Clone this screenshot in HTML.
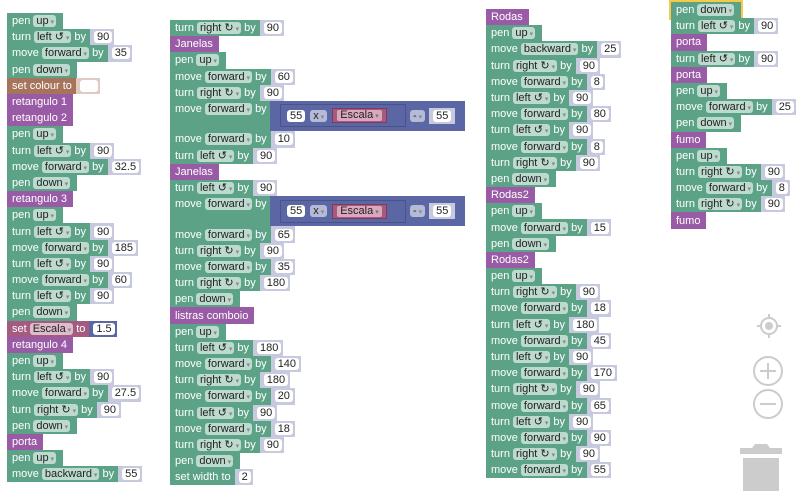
<!DOCTYPE html>
<html><head><meta charset="utf-8"><style>
body{margin:0;width:806px;height:491px;background:#fff;overflow:hidden;position:relative;font:11px "Liberation Sans",sans-serif}
.c{position:absolute;display:flex;flex-direction:column;align-items:flex-start}
.r{height:16.2px;display:flex;align-items:center;flex:none}
.b{background:#5ba287;height:16.2px;display:inline-flex;align-items:center;padding:0 4px 0 5px;color:#fff;white-space:nowrap;box-sizing:border-box}
.p{background:#995ba5;padding-right:6px}
.br{background:#a5745b}
.v{background:#a55b80}
.d{background:rgba(255,255,255,.6);color:#222;border-radius:3px;padding:0 2px 0 3px;height:12px;line-height:12px;margin:0 3px;text-decoration:none;display:inline-block}
.d::after{content:" ▾";font-size:7px;color:#888}
.n{background:#c7cadf;height:16.2px;display:inline-flex;align-items:center;padding:0 2px 0 4px;box-sizing:border-box}
.n i{background:#fff;color:#222;border-radius:3px;padding:0 3px;height:12px;line-height:12px;font-style:normal;display:inline-block}
.t{height:30.4px;align-items:flex-start}
.t .b{height:30.4px;align-items:flex-start;padding-top:2px}
.m{background:#5b67a5;height:30px;display:flex;align-items:center;padding:0 5px 0 10px;box-sizing:border-box;width:195px}
.mi{border:1px solid #49538a;height:23px;display:flex;align-items:center;padding:0 6px;width:126px;box-sizing:border-box}
.m .n{background:transparent;padding:0}
.x{background:rgba(255,255,255,.55);color:#222;border-radius:3px;height:12px;line-height:12px;padding:0 3px;margin:0 5px}
.x::after{content:" ▾";font-size:7px;color:#888}
.e{background:#a55b80;border:1px solid #7d3c5e;height:15px;display:inline-flex;align-items:center;padding:0 4px;box-sizing:border-box}
.e span{background:#d9a8bf;color:#222;border-radius:2px;height:11px;line-height:11px;padding:0 3px}
.e span::after{content:" ▾";font-size:7px;color:#777}
.sel{outline:2px solid #f7c948}
</style></head><body>

<div class="c" style="left:7px;top:13px">
<div class="r"><span class="b">pen<s class="d">up</s></span></div>
<div class="r"><span class="b">turn<s class="d">left ↺</s>by</span><span class="n"><i>90</i></span></div>
<div class="r"><span class="b">move<s class="d">forward</s>by</span><span class="n"><i>35</i></span></div>
<div class="r"><span class="b">pen<s class="d">down</s></span></div>
<div class="r"><span class="b br">set colour to</span><span class="n" style="background:#e0cbc0"><i style="width:12px"></i></span></div>
<div class="r"><span class="b p">retangulo 1</span></div>
<div class="r"><span class="b p">retangulo 2</span></div>
<div class="r"><span class="b">pen<s class="d">up</s></span></div>
<div class="r"><span class="b">turn<s class="d">left ↺</s>by</span><span class="n"><i>90</i></span></div>
<div class="r"><span class="b">move<s class="d">forward</s>by</span><span class="n"><i>32.5</i></span></div>
<div class="r"><span class="b">pen<s class="d">down</s></span></div>
<div class="r"><span class="b p">retangulo 3</span></div>
<div class="r"><span class="b">pen<s class="d">up</s></span></div>
<div class="r"><span class="b">turn<s class="d">left ↺</s>by</span><span class="n"><i>90</i></span></div>
<div class="r"><span class="b">move<s class="d">forward</s>by</span><span class="n"><i>185</i></span></div>
<div class="r"><span class="b">turn<s class="d">left ↺</s>by</span><span class="n"><i>90</i></span></div>
<div class="r"><span class="b">move<s class="d">forward</s>by</span><span class="n"><i>60</i></span></div>
<div class="r"><span class="b">turn<s class="d">left ↺</s>by</span><span class="n"><i>90</i></span></div>
<div class="r"><span class="b">pen<s class="d">down</s></span></div>
<div class="r"><span class="b v">set<s class="d">Escala</s>to</span><span class="n" style="background:#5b67a5"><i>1.5</i></span></div>
<div class="r"><span class="b p">retangulo 4</span></div>
<div class="r"><span class="b">pen<s class="d">up</s></span></div>
<div class="r"><span class="b">turn<s class="d">left ↺</s>by</span><span class="n"><i>90</i></span></div>
<div class="r"><span class="b">move<s class="d">forward</s>by</span><span class="n"><i>27.5</i></span></div>
<div class="r"><span class="b">turn<s class="d">right ↻</s>by</span><span class="n"><i>90</i></span></div>
<div class="r"><span class="b">pen<s class="d">down</s></span></div>
<div class="r"><span class="b p">porta</span></div>
<div class="r"><span class="b">pen<s class="d">up</s></span></div>
<div class="r"><span class="b">move<s class="d">backward</s>by</span><span class="n"><i>55</i></span></div>
</div>

<div class="c" style="left:170px;top:20px">
<div class="r"><span class="b">turn<s class="d">right ↻</s>by</span><span class="n"><i>90</i></span></div>
<div class="r"><span class="b p">Janelas</span></div>
<div class="r"><span class="b">pen<s class="d">up</s></span></div>
<div class="r"><span class="b">move<s class="d">forward</s>by</span><span class="n"><i>60</i></span></div>
<div class="r"><span class="b">turn<s class="d">right ↻</s>by</span><span class="n"><i>90</i></span></div>
<div class="r t"><span class="b" style="width:100px">move<s class="d">forward</s>by</span><span class="m"><span class="mi"><span class="n"><i>55</i></span><span class="x">x</span><span class="e"><span>Escala</span></span></span><span class="x" style="margin:0 4px 0 4px">-</span><span class="n" style="background:#c7cadf;padding:0 4px"><i>55</i></span></span></div>
<div class="r"><span class="b">move<s class="d">forward</s>by</span><span class="n"><i>10</i></span></div>
<div class="r"><span class="b">turn<s class="d">left ↺</s>by</span><span class="n"><i>90</i></span></div>
<div class="r"><span class="b p">Janelas</span></div>
<div class="r"><span class="b">turn<s class="d">left ↺</s>by</span><span class="n"><i>90</i></span></div>
<div class="r t"><span class="b" style="width:100px">move<s class="d">forward</s>by</span><span class="m"><span class="mi"><span class="n"><i>55</i></span><span class="x">x</span><span class="e"><span>Escala</span></span></span><span class="x" style="margin:0 4px 0 4px">-</span><span class="n" style="background:#c7cadf;padding:0 4px"><i>55</i></span></span></div>
<div class="r"><span class="b">move<s class="d">forward</s>by</span><span class="n"><i>65</i></span></div>
<div class="r"><span class="b">turn<s class="d">right ↻</s>by</span><span class="n"><i>90</i></span></div>
<div class="r"><span class="b">move<s class="d">forward</s>by</span><span class="n"><i>35</i></span></div>
<div class="r"><span class="b">turn<s class="d">right ↻</s>by</span><span class="n"><i>180</i></span></div>
<div class="r"><span class="b">pen<s class="d">down</s></span></div>
<div class="r"><span class="b p">listras comboio</span></div>
<div class="r"><span class="b">pen<s class="d">up</s></span></div>
<div class="r"><span class="b">turn<s class="d">left ↺</s>by</span><span class="n"><i>180</i></span></div>
<div class="r"><span class="b">move<s class="d">forward</s>by</span><span class="n"><i>140</i></span></div>
<div class="r"><span class="b">turn<s class="d">right ↻</s>by</span><span class="n"><i>180</i></span></div>
<div class="r"><span class="b">move<s class="d">forward</s>by</span><span class="n"><i>20</i></span></div>
<div class="r"><span class="b">turn<s class="d">left ↺</s>by</span><span class="n"><i>90</i></span></div>
<div class="r"><span class="b">move<s class="d">forward</s>by</span><span class="n"><i>18</i></span></div>
<div class="r"><span class="b">turn<s class="d">right ↻</s>by</span><span class="n"><i>90</i></span></div>
<div class="r"><span class="b">pen<s class="d">down</s></span></div>
<div class="r"><span class="b">set width to</span><span class="n"><i>2</i></span></div>
</div>

<div class="c" style="left:486px;top:9px">
<div class="r"><span class="b p">Rodas</span></div>
<div class="r"><span class="b">pen<s class="d">up</s></span></div>
<div class="r"><span class="b">move<s class="d">backward</s>by</span><span class="n"><i>25</i></span></div>
<div class="r"><span class="b">turn<s class="d">right ↻</s>by</span><span class="n"><i>90</i></span></div>
<div class="r"><span class="b">move<s class="d">forward</s>by</span><span class="n"><i>8</i></span></div>
<div class="r"><span class="b">turn<s class="d">left ↺</s>by</span><span class="n"><i>90</i></span></div>
<div class="r"><span class="b">move<s class="d">forward</s>by</span><span class="n"><i>80</i></span></div>
<div class="r"><span class="b">turn<s class="d">left ↺</s>by</span><span class="n"><i>90</i></span></div>
<div class="r"><span class="b">move<s class="d">forward</s>by</span><span class="n"><i>8</i></span></div>
<div class="r"><span class="b">turn<s class="d">right ↻</s>by</span><span class="n"><i>90</i></span></div>
<div class="r"><span class="b">pen<s class="d">down</s></span></div>
<div class="r"><span class="b p">Rodas2</span></div>
<div class="r"><span class="b">pen<s class="d">up</s></span></div>
<div class="r"><span class="b">move<s class="d">forward</s>by</span><span class="n"><i>15</i></span></div>
<div class="r"><span class="b">pen<s class="d">down</s></span></div>
<div class="r"><span class="b p">Rodas2</span></div>
<div class="r"><span class="b">pen<s class="d">up</s></span></div>
<div class="r"><span class="b">turn<s class="d">right ↻</s>by</span><span class="n"><i>90</i></span></div>
<div class="r"><span class="b">move<s class="d">forward</s>by</span><span class="n"><i>18</i></span></div>
<div class="r"><span class="b">turn<s class="d">left ↺</s>by</span><span class="n"><i>180</i></span></div>
<div class="r"><span class="b">move<s class="d">forward</s>by</span><span class="n"><i>45</i></span></div>
<div class="r"><span class="b">turn<s class="d">left ↺</s>by</span><span class="n"><i>90</i></span></div>
<div class="r"><span class="b">move<s class="d">forward</s>by</span><span class="n"><i>170</i></span></div>
<div class="r"><span class="b">turn<s class="d">right ↻</s>by</span><span class="n"><i>90</i></span></div>
<div class="r"><span class="b">move<s class="d">forward</s>by</span><span class="n"><i>65</i></span></div>
<div class="r"><span class="b">turn<s class="d">left ↺</s>by</span><span class="n"><i>90</i></span></div>
<div class="r"><span class="b">move<s class="d">forward</s>by</span><span class="n"><i>90</i></span></div>
<div class="r"><span class="b">turn<s class="d">right ↻</s>by</span><span class="n"><i>90</i></span></div>
<div class="r"><span class="b">move<s class="d">forward</s>by</span><span class="n"><i>55</i></span></div>
</div>

<div class="c" style="left:671px;top:2px">
<div class="r"><span class="b sel">pen<s class="d">down</s></span></div>
<div class="r"><span class="b">turn<s class="d">left ↺</s>by</span><span class="n"><i>90</i></span></div>
<div class="r"><span class="b p">porta</span></div>
<div class="r"><span class="b">turn<s class="d">left ↺</s>by</span><span class="n"><i>90</i></span></div>
<div class="r"><span class="b p">porta</span></div>
<div class="r"><span class="b">pen<s class="d">up</s></span></div>
<div class="r"><span class="b">move<s class="d">forward</s>by</span><span class="n"><i>25</i></span></div>
<div class="r"><span class="b">pen<s class="d">down</s></span></div>
<div class="r"><span class="b p">fumo</span></div>
<div class="r"><span class="b">pen<s class="d">up</s></span></div>
<div class="r"><span class="b">turn<s class="d">right ↻</s>by</span><span class="n"><i>90</i></span></div>
<div class="r"><span class="b">move<s class="d">forward</s>by</span><span class="n"><i>8</i></span></div>
<div class="r"><span class="b">turn<s class="d">right ↻</s>by</span><span class="n"><i>90</i></span></div>
<div class="r"><span class="b p">fumo</span></div>
</div>

<svg style="position:absolute;left:0;top:0" width="806" height="491">
<g fill="none" stroke="#ccc" stroke-width="2">
<circle cx="769" cy="326" r="8"/>
<path d="M769 314v5M769 333v5M757 326h5M776 326h5"/>
<circle cx="768" cy="371" r="14"/><path d="M760 371h16M768 363v16"/>
<circle cx="768" cy="404" r="14"/><path d="M760 404h16"/>
</g>
<circle cx="769" cy="326" r="4" fill="#ccc"/>
<path d="M740 448h42v6h-42zM755 444h12l3 4h-18z" fill="#ccc"/>
<rect x="743" y="458" width="36" height="33" fill="#ccc"/>
</svg>
</body></html>
